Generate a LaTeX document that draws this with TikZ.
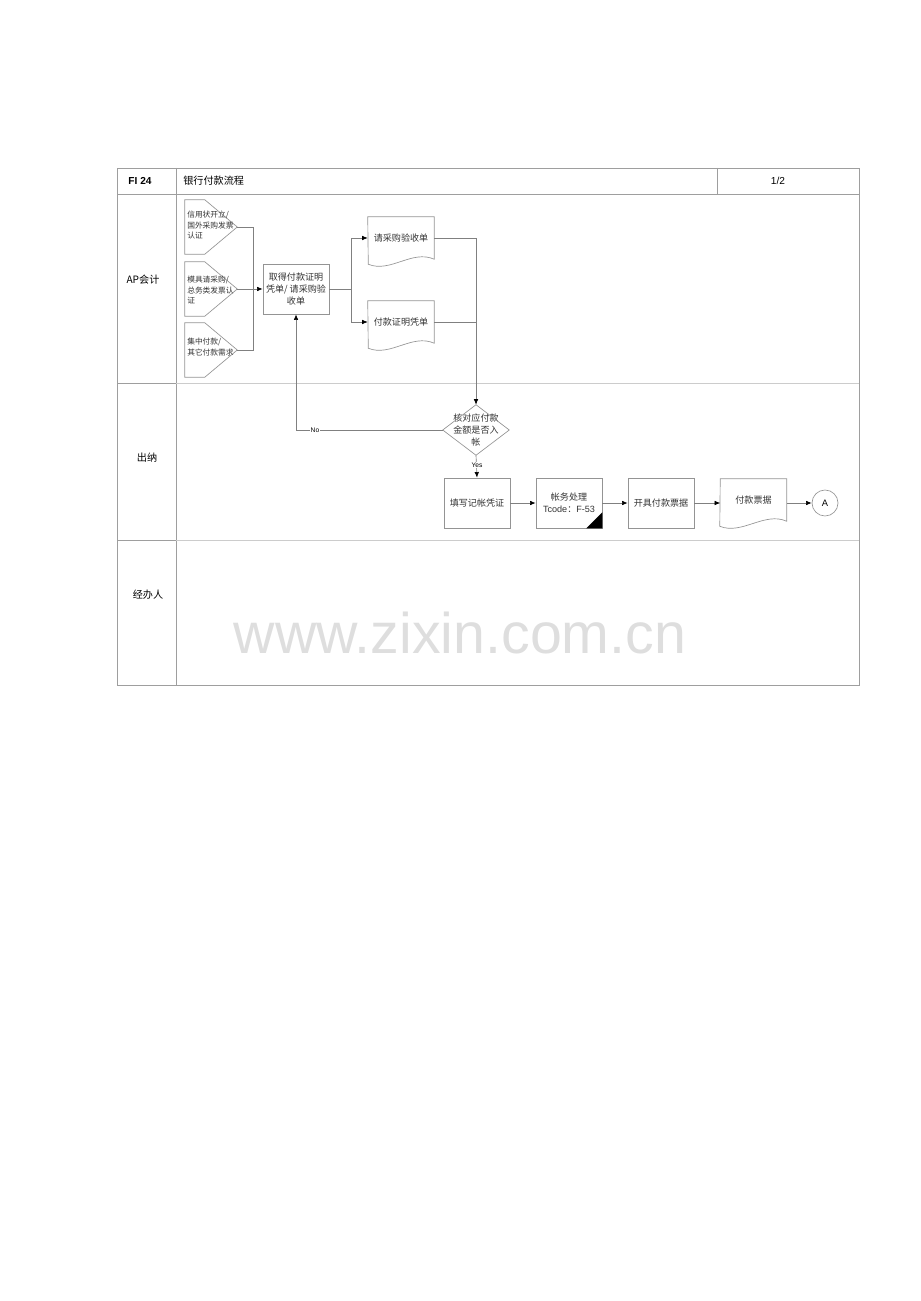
\documentclass[tikz,border=0pt]{standalone}
\usepackage{fontspec}
\setmainfont{Noto Sans CJK SC}
\newfontfamily\lat{Liberation Sans}
\usetikzlibrary{arrows.meta,calc}
\begin{document}
\begin{tikzpicture}[x=0.75pt,y=-0.75pt,
  tbl/.style={draw=black!38, line width=0.6pt},
  lanesep/.style={draw=black!20, line width=0.6pt},
  shp/.style={draw=black!42, line width=0.5pt},
  conn/.style={draw=black!50, line width=0.5pt},
  arr/.style={conn, -{Latex[length=4.2pt,width=3.4pt,color=black]}},
  txt/.style={font=\fontsize{6.8pt}{9pt}\selectfont, text=black!80, align=center, inner sep=0pt},
  small/.style={font=\fontsize{5.8pt}{7.9pt}\selectfont, text=black!80, align=left, inner sep=0pt, anchor=north west},
  box/.style={txt, minimum width=49.5pt, minimum height=37.5pt},
  proc/.style={box, shp},
  docn/.style={txt, minimum width=49.5pt, minimum height=31.5pt},
  pent/.style={minimum width=39pt, minimum height=40.5pt, inner sep=0pt},
  lbl/.style={font=\lat\fontsize{5pt}{6pt}\selectfont, inner sep=0.8pt, fill=white},
  head/.style={font=\fontsize{7.6pt}{9pt}\selectfont, inner sep=0pt, text=black}
]
\useasboundingbox (0,0) rectangle (920,1301);

% table
\draw[tbl] (117,168) rectangle (859,685);
\draw[tbl] (117,194) -- (859,194);
\draw[tbl] (176,168) -- (176,685);
\draw[tbl] (717,168) -- (717,194);
\draw[tbl] (117,383) -- (176,383);
\draw[tbl] (117,540) -- (176,540);
\draw[lanesep] (176,383) -- (859,383);
\draw[lanesep] (176,540) -- (859,540);

% header
\node[head, font=\lat\bfseries\fontsize{7.6pt}{9pt}\selectfont] (hid) at (140,181) {FI 24};
\node[head, anchor=west] (htitle) at (183,181) {银行付款流程};
\node[head, font=\lat\fontsize{7.6pt}{9pt}\selectfont] (hpage) at (778,181) {1/2};

% lane labels
\node[head] (lap) at (143,280) {AP会计};
\node[head] (lcn) at (147,458) {出纳};
\node[head] (ljb) at (148,595) {经办人};

% watermark
\node[font=\lat\fontsize{43pt}{48pt}\selectfont, text=black!13, inner sep=0pt] (wm) at (460,633) {www.zixin.com.cn};

% pentagon inputs
\node[pent] (p1) at (211,227) {};
\node[pent] (p2) at (211,289) {};
\node[pent] (p3) at (211,350) {};
\foreach \p in {p1,p2,p3}{
  \draw[shp] (\p.north west) -- ++(20,0) -- (\p.east) -- ($(\p.south west)+(20,0)$) -- (\p.south west) -- cycle;
}
\node[small] (t1) at (187,211) {信用状开立/\\国外采购发票\\认证};
\node[small] (t2) at (187,276) {模具请采购/\\总务类发票认\\证};
\node[small] (t3) at (187,338) {集中付款/\\其它付款需求};

% main box
\node[proc] (main) at (296,289) {取得付款证明\\凭单/ 请采购验\\收单};
\coordinate (col) at (253,289);
\draw[conn] (p1.east) -| (col);
\draw[conn] (p3.east) -| (col);
\draw[arr] (p2.east) -- (main.west);

% documents
\node[docn] (d1) at (401,238) {请采购验收单};
\node[docn] (d2) at (401,322) {付款证明凭单};
\foreach \d in {d1,d2}{
  \draw[shp] (\d.south east) .. controls +(-22,-10) and +(22,9) .. +(-66,5) -- (\d.north west) -- (\d.north east) -- cycle;
}
\coordinate (split) at (351,289);
\draw[conn] (main.east) -- (split);
\draw[arr] (split) |- (d1.west);
\draw[arr] (split) |- (d2.west);

% decision
\node[box] (dia) at (476,430) {核对应付款\\金额是否入\\帐};
\draw[shp] (dia.north) -- (dia.east) -- (dia.south) -- (dia.west) -- cycle;
\coordinate (j) at (dia.north |- d2.east);
\draw[conn] (d1.east) -| (j);
\draw[arr] (d2.east) -- (j) -- (dia.north);

% No branch
\draw[arr] (dia.west) -| (main.south);
\node[lbl] (nol) at (315,430) {No};

% row of 出纳
\node[proc] (b1) at (477,503) {填写记帐凭证};
\node[proc] (b2) at (569,503) {帐务处理\\{\lat Tcode}：{\lat F-53}};
\fill[black] (b2.south east) -- ++(0,-16) -- ++(-16,16) -- cycle;
\node[proc] (b3) at (661,503) {开具付款票据};
\node[docn] (d3) at (753.5,500) {付款票据};
\draw[shp] (d3.south east) .. controls +(-22,-10) and +(22,9) .. +(-67,5) -- (d3.north west) -- (d3.north east) -- cycle;
\node[shp, circle, minimum size=19.5pt, inner sep=0pt, font=\lat\fontsize{7pt}{8pt}\selectfont] (ca) at (825,503) {A};

\draw[arr] (dia.south) -- (b1.north);
\node[lbl] (yesl) at (477,465) {Yes};
\draw[arr] (b1.east) -- (b2.west);
\draw[arr] (b2.east) -- (b3.west);
\draw[arr] (b3.east) -- (b3.east -| d3.west);
\draw[arr] (d3.east |- ca.west) -- (ca.west);
\end{tikzpicture}
\end{document}
